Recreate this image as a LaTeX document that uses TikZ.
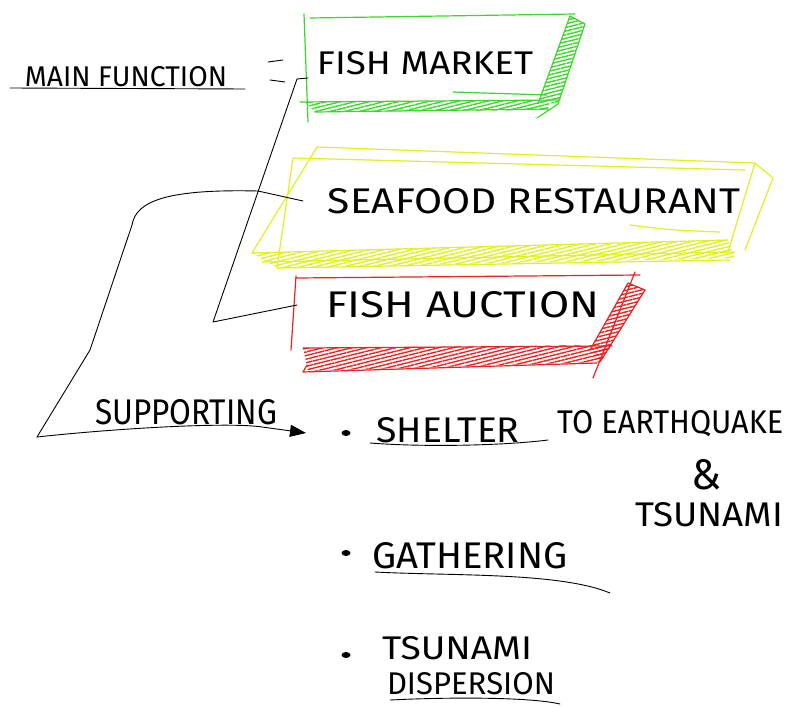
\documentclass[tikz,border=0pt]{standalone}
\usepackage{fontspec}
\usepackage{graphicx}
\newfontfamily\handfont{Fira Sans}
\usetikzlibrary{arrows.meta,patterns.meta}

\definecolor{mktgreen}{RGB}{60,215,45}
\definecolor{restyellow}{RGB}{225,240,30}
\definecolor{auctred}{RGB}{232,35,35}

% hand lettering squeezed into a fixed box
\newcommand{\hand}[3]{\resizebox{#1pt}{#2pt}{\handfont #3}}

\tikzset{
  lbl/.style={inner sep=0pt},
  pen/.style={line width=0.9pt, line cap=round, line join=round},
  slab/.style={pen, line width=1.2pt, draw=#1},
  hatch/.style={pattern={Lines[angle=14,distance=3.5pt,line width=1.4pt]}, pattern color=#1},
}

\begin{document}
\begin{tikzpicture}[x=1pt,y=-1pt]
\clip (0,0) rectangle (786,706);
\fill[white] (0,0) rectangle (786,706);

% main functions
\node[lbl] (main) at (126,77) {\hand{202}{20}{MAIN FUNCTION}};
\draw[pen] (10,88) -- (245,89);
\draw[pen] (268,62) -- (283,60) (270,80) -- (285,82);

% fish market
\fill[hatch=mktgreen] (305,102) -- (550,100) -- (548,110) -- (315,112) -- cycle;
\fill[hatch=mktgreen] (570,16) -- (585,24) -- (558,104) -- (538,102) -- cycle;
\draw[slab=mktgreen] (310,18) -- (575,14) (304,14) -- (308,122)
  (570,16) -- (538,104) (570,16) -- (585,24) -- (558,104) -- (537,118)
  (300,102) -- (560,100) (315,112) -- (548,109) (453,92) -- (547,95);
\node[lbl] (fm) at (425,63) {\hand{216}{23}{FISH MARKET}};

% seafood restaurant
\fill[hatch=restyellow] (252,253) -- (728,240) -- (735,258) -- (277,268) -- cycle;
\draw[slab=restyellow] (317,147) -- (755,163) -- (773,178) -- (745,250)
  (293,158) -- (745,170) (317,147) -- (252,253) -- (728,240)
  (293,158) -- (277,268) -- (730,260) (262,262) -- (735,252)
  (755,163) -- (728,252) (630,225) .. controls (670,230) .. (720,232);
\node[lbl] (sr) at (534,201) {\hand{412}{25}{SEAFOOD RESTAURANT}};

% fish auction
\fill[hatch=auctred] (303,348) -- (612,345) -- (600,362) -- (308,371) -- cycle;
\fill[hatch=auctred] (628,283) -- (645,290) -- (600,362) -- (590,350) -- cycle;
\draw[slab=auctred] (296,278) -- (640,275) (296,276) -- (291,350)
  (303,348) -- (612,346) (307,365) -- (303,372) -- (597,363)
  (628,283) -- (645,290) -- (600,362) (628,283) -- (590,350) (635,272) -- (593,378);
\node[lbl] (fa) at (463,305) {\hand{273}{26}{FISH AUCTION}};

% tree
\coordinate (fmin) at (308,78);
\coordinate (top) at (297,79);
\coordinate (bot) at (213,322);
\coordinate (fork) at (258,191);
\draw[pen] (fmin) -- (top) -- (bot) -- (fa.west -| 297,0);
\draw[pen] (fork) -- (sr.west -| 303,0);

% supporting
\node[lbl] (sup) at (186,412) {\hand{182}{25}{SUPPORTING}};
\coordinate (corner) at (37,437);
\coordinate (tip) at (306,433);
\draw[pen] (fork) .. controls (170,189) and (136,200) .. (132,225) -- (90,350) -- (corner);
\draw[pen, -{Triangle[length=16pt,width=12pt]}] (corner) .. controls (120,428) and (230,422) .. (262,427) -- (tip);

\foreach \y in {433,553,655}
  \fill (346,\y) ellipse [x radius=4.5pt, y radius=3pt];

\node[lbl] (shelter) at (448,430) {\hand{143}{25}{SHELTER}};
\draw[pen] (370,443) .. controls (420,447) and (500,446) .. (548,440);
\node[lbl, anchor=west] (quake) at (557,424) {\hand{226}{23}{TO EARTHQUAKE}};
\node[lbl] (and) at (706,475) {\hand{30}{30}{\&}};
\node[lbl, anchor=west] (tsu) at (635,515) {\hand{148}{24}{TSUNAMI}};

\node[lbl] (gath) at (470,556) {\hand{195}{26}{GATHERING}};
\draw[pen] (375,572) .. controls (450,576) and (560,572) .. (610,593);

\node[lbl] (tsu2) at (457,648) {\hand{150}{23}{TSUNAMI}};
\node[lbl] (disp) at (471,684) {\hand{168}{22}{DISPERSION}};
\draw[pen] (390,700) .. controls (450,697) and (530,697) .. (560,704);
\end{tikzpicture}
\end{document}
